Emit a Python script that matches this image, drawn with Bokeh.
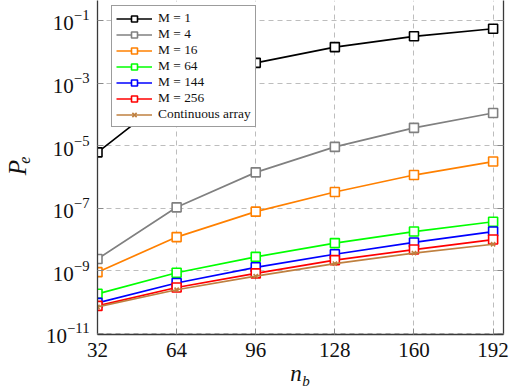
from bokeh.plotting import figure
from bokeh.models import FixedTicker, LogAxis, LinearAxis, Legend, LegendItem, CustomJSTickFormatter
from bokeh.embed import file_html
from bokeh.resources import INLINE

# ---- data ----
nb = [32, 64, 96, 128, 160, 192]
pe_m1 = [6.1e-6, 5.7e-4, 4.4e-3, 1.4e-2, 3.1e-2, 5.4e-2]
pe_m4 = [2.4e-9, 1.07e-7, 1.4e-6, 9.1e-6, 3.7e-5, 1.1e-4]
pe_m16 = [9.1e-10, 1.2e-8, 7.8e-8, 3.3e-7, 1.15e-6, 3.1e-6]
pe_m64 = [1.85e-10, 8.7e-10, 2.8e-9, 7.7e-9, 1.8e-8, 3.7e-8]
pe_m144 = [9.5e-11, 4.1e-10, 1.3e-9, 3.4e-9, 8.1e-9, 1.8e-8]
pe_m256 = [7.6e-11, 2.95e-10, 8.3e-10, 2.2e-9, 4.8e-9, 1.0e-8]
pe_cont = [7.1e-11, 2.5e-10, 6.8e-10, 1.7e-9, 3.7e-9, 7.1e-9]

series_labels = ["M = 1", "M = 4", "M = 16", "M = 64", "M = 144", "M = 256", "Continuous array"]
series_values = [pe_m1, pe_m4, pe_m16, pe_m64, pe_m144, pe_m256, pe_cont]
series_colors = ["#000000", "#808080", "#ff8000", "#00ff00", "#0000ff", "#ff0000", "#bf8040"]
series_markers = ["square", "square", "square", "square", "square", "square", "x"]

x_ticks = [32, 64, 96, 128, 160, 192]
y_ticks = [1e-11, 1e-9, 1e-7, 1e-5, 1e-3, 1e-1]

# axis titles: main letter and subscript (n_b, P_e)
x_title, x_sub = "n", "b"
y_title, y_sub = "P", "e"
x_title_at = 112.3    # anchor of "n" (data x)
x_sub_at = 116.3      # anchor of subscript "b" (data x)
y_sub_at = 3.4e-6     # anchor of subscript "e" (data y)

FONT = "Liberation Serif"
AXIS_COL = "#3a3a3a"
TICK_COL = "#8a8a8a"
GRID_COL = "#bdbdbd"
TXT = "#111111"

p = figure(width=515, height=391,
           x_range=(32, 196.2), y_range=(10 ** -11.032, 10 ** -0.365),
           y_axis_type="log", output_backend="svg", toolbar_location=None,
           min_border_left=97, min_border_right=12, min_border_top=0, min_border_bottom=55)
p.outline_line_color = None
p.background_fill_color = "white"

# main axes
p.xaxis.ticker = FixedTicker(ticks=x_ticks)
p.yaxis.ticker = FixedTicker(ticks=y_ticks)
for ax in (p.xaxis[0], p.yaxis[0]):
    ax.axis_line_color = AXIS_COL
    ax.axis_line_width = 1.3
    ax.major_tick_in = 6
    ax.major_tick_out = 0
    ax.major_tick_line_color = TICK_COL
    ax.minor_tick_line_color = None
    ax.major_label_text_font = FONT
    ax.major_label_text_font_size = "21px"
    ax.major_label_text_color = TXT
p.xaxis.major_label_standoff = 8
p.yaxis.major_label_standoff = 8
p.yaxis.axis_label = y_title
p.yaxis.axis_label_text_font = FONT
p.yaxis.axis_label_text_font_style = "italic"
p.yaxis.axis_label_text_color = TXT
p.yaxis.axis_label_text_font_size = "25px"
p.yaxis.axis_label_standoff = 12

right = LogAxis(ticker=FixedTicker(ticks=y_ticks),
                formatter=CustomJSTickFormatter(code="return ''"))
right.axis_line_color = AXIS_COL
right.axis_line_width = 1.3
right.major_tick_in = 6
right.major_tick_out = 0
right.major_tick_line_color = TICK_COL
right.minor_tick_line_color = None
right.major_label_standoff = 0
p.add_layout(right, "right")


def bare_axis(kind, at, text, size, standoff, **kw):
    ax = kind(ticker=FixedTicker(ticks=[at]), major_label_overrides={at: text},
              axis_line_color=None, major_tick_line_color=None,
              minor_tick_line_color=None, major_tick_in=0, major_tick_out=0,
              major_label_standoff=standoff, major_label_text_font=FONT,
              major_label_text_font_style="italic",
              major_label_text_font_size=size, major_label_text_color=TXT, **kw)
    return ax


# x title "n" with subscript "b"
p.add_layout(bare_axis(LinearAxis, x_title_at, x_title, "23px", 1), "below")
p.add_layout(bare_axis(LinearAxis, x_sub_at, x_sub, "15px", -16), "below")
# subscript "e" of the y title
p.add_layout(bare_axis(LogAxis, y_sub_at, y_sub, "16px", -29,
                       major_label_orientation="parallel"), "left")

# grid
for g in (p.xgrid[0], p.ygrid[0]):
    g.grid_line_color = GRID_COL
    g.grid_line_dash = "5 4"
    g.grid_line_width = 1

# series
items = []
for lab, vals, col, mk in zip(series_labels, series_values, series_colors, series_markers):
    r_line = p.line(nb, vals, line_color=col, line_width=1.7)
    if mk == "square":
        r_mk = p.scatter(nb, vals, marker="square", size=9, line_color=col,
                         line_width=1.6, fill_color="white")
    else:
        r_mk = p.scatter(nb, vals, marker="x", size=6, line_color=col, line_width=1.6)
    items.append(LegendItem(label=lab, renderers=[r_line, r_mk]))

legend = Legend(items=items, location=(14, 207),
                glyph_width=36, glyph_height=15, label_height=15, spacing=0,
                padding=4, label_standoff=6, margin=0,
                label_text_font=FONT, label_text_font_size="13.4px",
                label_text_color=TXT,
                border_line_color=AXIS_COL, border_line_width=1.2,
                background_fill_alpha=1.0)
p.add_layout(legend, "center")

open("out.html", "w").write(file_html(p, INLINE))
